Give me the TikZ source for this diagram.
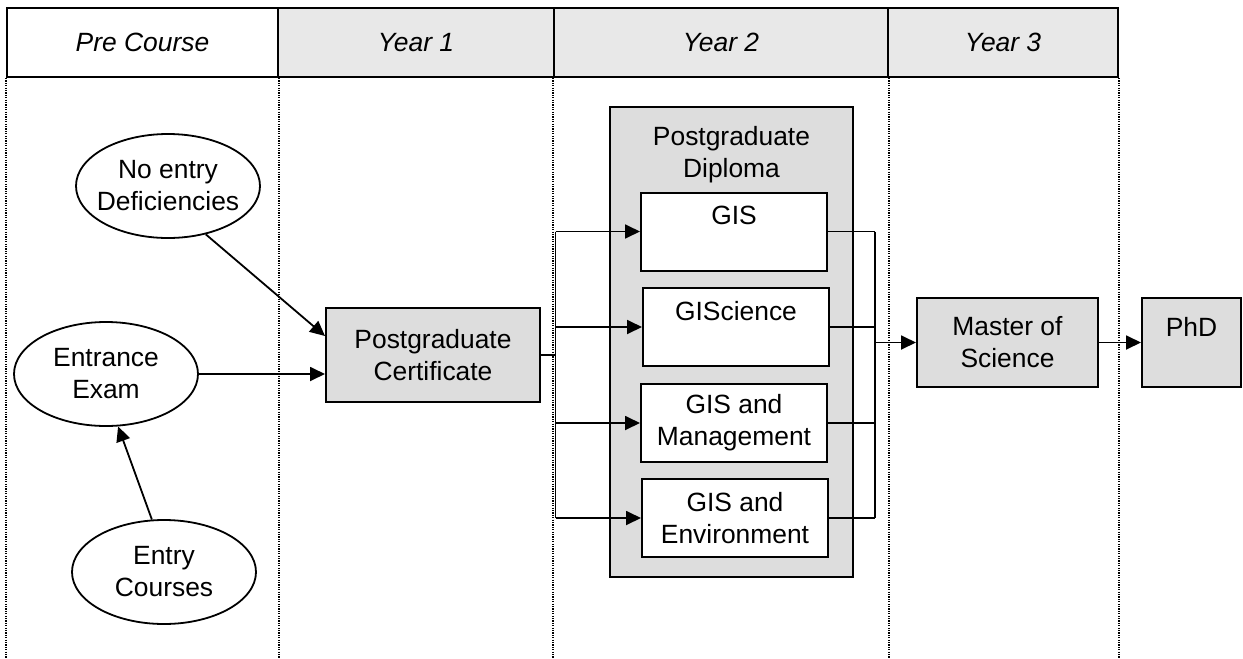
\documentclass[tikz,border=0pt]{standalone}
\usepackage{fontspec}
\setmainfont{Liberation Sans}
\usepackage{tikz}
\usetikzlibrary{shapes.geometric}
\usetikzlibrary{arrows.meta}
\definecolor{headgray}{HTML}{E8E8E8}
\definecolor{boxgray}{HTML}{DDDDDD}
\tikzset{
    head/.style={rectangle, draw=black, line width=1pt, minimum height=34.5pt, inner sep=0pt, font=\fontsize{13.2}{16}\selectfont\itshape},
    oval/.style={ellipse, draw=black, line width=0.9pt, minimum width=92pt, minimum height=52pt, inner xsep=-4pt, inner ysep=0pt, align=center},
    grayblock/.style={rectangle, draw=black, line width=1pt, fill=boxgray, inner sep=0pt, align=center},
    option/.style={rectangle, draw=black, line width=1pt, fill=white, minimum width=93pt, minimum height=39pt, inner sep=0pt, align=center},
    flow/.style={line width=0.9pt, -{Triangle[length=7.5pt, width=7pt]}},
    wire/.style={line width=0.9pt},
    lane/.style={line width=0.7pt, dash pattern=on 0.6pt off 0.6pt}}

\begin{document}
\begin{tikzpicture}[x=0.5pt, y=-0.5pt, font=\fontsize{13.2}{16}\selectfont]

            \useasboundingbox (0,0) rectangle (1243,659);
            \coordinate (bottom) at (0,659);

            % header row
            \node[head, fill=white, minimum width=135.5pt] (hpre) at (142.5,42.5) {Pre Course};
            \node[head, fill=headgray, minimum width=138pt] (hone) at (416,42.5) {Year 1};
            \node[head, fill=headgray, minimum width=167pt] (htwo) at (721,42.5) {Year 2};
            \node[head, fill=headgray, minimum width=115pt] (hthree) at (1003,42.5) {Year 3};

            \foreach \c in {hpre.south west, hpre.south east, htwo.south west, htwo.south east, hthree.south east}
                \draw[lane] (\c) -- (\c |- bottom);

            % pre course
            \node[oval] (nodef) at (168,186) {No entry\\Deficiencies};
            \node[oval] (exam) at (106,374) {Entrance\\Exam};
            \node[oval] (entry) at (164,572) {Entry\\Courses};

            % year 1
            \node[grayblock, minimum width=107pt, minimum height=47pt] (cert) at (433,355) {Postgraduate\\Certificate};

            % year 2
            \node[grayblock, minimum width=121.5pt, minimum height=235pt] (diploma) at (731.5,342) {};
            \node[align=center] (dipname) at (731.5,155) {Postgraduate\\Diploma};
            \node[option] (gis) at (734,231.5) {GIS\\\mbox{}};
            \node[option] (gisci) at (736,327) {GIScience\\\mbox{}};
            \node[option] (gisman) at (734,423) {GIS and\\Management};
            \node[option] (gisenv) at (735,518) {GIS and\\Environment};

            % year 3
            \node[grayblock, minimum width=90.5pt, minimum height=44.5pt] (msc) at (1007.5,342.5) {Master of\\Science};
            \node[grayblock, minimum width=49.5pt, minimum height=44.5pt] (phd) at (1191.5,342.5) {PhD\\\mbox{}};

            \draw[flow] (nodef.-52) -- ([yshift=9.5pt]cert.west);
            \draw[flow] (exam.east) -- (exam.east -| cert.west);
            \draw[flow] (entry.103) -- (exam.-77);

            \draw[wire] (cert.east) -- ++(14.5,0) coordinate (split);
            \draw[wire] (split |- gis.west) -- (split |- gisenv.west);
            \foreach \b in {gis, gisci, gisman, gisenv}
                \draw[flow] (split |- \b.west) -- (\b.west);

            \coordinate (join) at (875,343);
            \foreach \b in {gis, gisci, gisman, gisenv}
                \draw[wire] (\b.east) -- (join |- \b.east);
            \draw[wire] (join |- gis.east) -- (join |- gisenv.east);
            \draw[flow] (join |- msc.west) -- (msc.west);
            \draw[flow] (msc.east) -- (phd.west);

        \end{tikzpicture}
\end{document}
